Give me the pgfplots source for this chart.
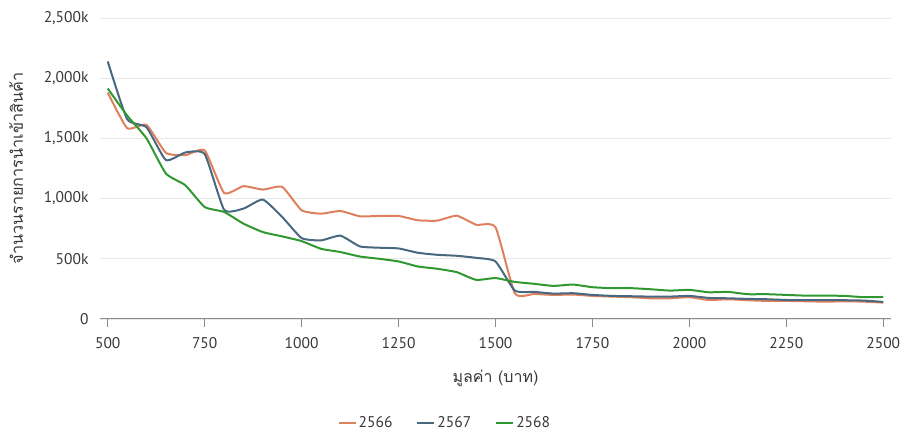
\documentclass[border=0pt]{standalone}
\usepackage{pgfplots}
\pgfplotsset{compat=1.18}
\usepackage{pgfplotstable}
\usepackage{fontspec}
\setmainfont{PT Sans}
\newfontfamily\thaifont[Script=Thai]{Loma}
\definecolor{c66}{RGB}{222,128,94}
\definecolor{c67}{RGB}{72,104,128}
\definecolor{c68}{RGB}{48,152,48}
\definecolor{txt}{RGB}{55,55,55}
\definecolor{gridc}{RGB}{232,232,232}
\definecolor{axc}{RGB}{140,140,140}
\pgfplotstableread{
x o b g
500 1881 2139 1914
550 1585 1660 1690
600 1612 1592 1500
650 1380 1320 1208
700 1361 1383 1111
750 1400 1370 930
800 1047 908 889
850 1103 917 792
900 1075 992 722
950 1097 847 686
1000 903 672 647
1050 875 653 583
1100 897 692 556
1150 853 603 519
1200 856 592 500
1250 856 586 478
1300 820 550 436
1350 817 533 417
1400 858 525 389
1450 783 508 325
1500 762 478 340
1550 212 236 308
1600 208 225 292
1650 200 211 275
1700 203 214 286
1750 192 200 264
1800 186 192 256
1850 181 189 256
1900 172 186 247
1950 172 186 236
2000 181 192 242
2050 158 175 222
2100 164 172 225
2150 156 167 206
2200 150 164 206
2250 150 158 200
2300 147 156 194
2350 144 156 194
2400 147 156 192
2450 144 153 181
2500 136 142 183
}\data
\begin{document}
\begin{tikzpicture}
\useasboundingbox (0pt,0pt) rectangle (906pt,441pt);
\begin{axis}[
  at={(100pt,122pt)}, anchor=south west,
  scale only axis, width=791pt, height=301pt,
  xmin=480, xmax=2520, ymin=0, ymax=2500,
  axis x line*=bottom,
  x axis line style={draw=axc, line width=1pt, -},
  axis y line*=left,
  y axis line style={draw=none},
  xtick={500,750,...,2500},
  ytick={0,500,...,2500},
  yticklabels={0,500k,{1,000k},{1,500k},{2,000k},{2,500k}},
  xticklabels={500,750,1000,1250,1500,1750,2000,2250,2500},
  ymajorgrids, grid style={draw=gridc, line width=0.8pt},
  xtick style={draw=axc, line width=1pt},
  xtick align=outside, major tick length=8pt,
  ytick style={draw=none},
  tick label style={font=\fontsize{15.5}{18}\selectfont, text=txt},
  xticklabel style={anchor=north, yshift=-7pt},
  yticklabel style={anchor=east, xshift=-8pt},
  xlabel={\thaifont มูลค่า (บาท)},
  ylabel={\thaifont จำนวนรายการนำเข้าสินค้า},
  label style={font=\fontsize{16}{19}\selectfont, text=txt},
  ylabel style={font=\fontsize{16.2}{19}\selectfont},
  xlabel style={at={(axis description cs:0.5,-0.196)}, anchor=center},
  ylabel style={at={(axis description cs:-0.106,0.5)}, anchor=center},
  legend columns=3,
  legend style={at={(axis description cs:0.436,-0.3455)}, anchor=center, draw=none, fill=none,
    font=\fontsize{15.5}{18}\selectfont, text=txt,
    /tikz/every even column/.append style={column sep=22pt}},
  legend image code/.code={\draw[#1, line width=2pt] (0pt,0pt) -- (17pt,0pt);},
  every axis plot/.append style={line width=2pt, smooth, tension=0.3},
]
\addplot[c66] table[x=x,y=o] {\data};
\addplot[c67] table[x=x,y=b] {\data};
\addplot[c68] table[x=x,y=g] {\data};
\legend{2566,2567,2568}
\end{axis}
\end{tikzpicture}
\end{document}
